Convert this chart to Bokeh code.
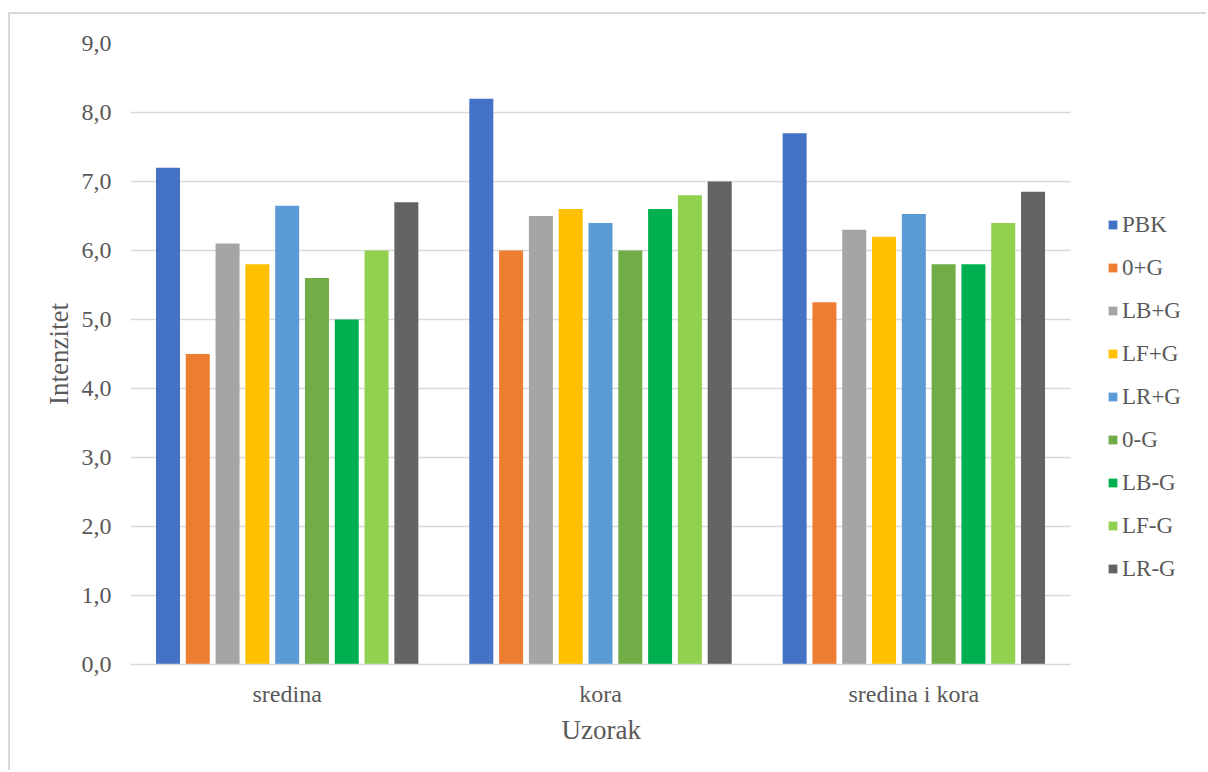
from bokeh.plotting import figure
from bokeh.models import Legend, LegendItem, ColumnDataSource, FixedTicker, CustomJSTickFormatter, Range1d, Title
from bokeh.transform import dodge
from bokeh.embed import file_html
from bokeh.resources import INLINE

categories = ["sredina", "kora", "sredina i kora"]
series_names = ["PBK", "0+G", "LB+G", "LF+G", "LR+G", "0-G", "LB-G", "LF-G", "LR-G"]
PBK = [7.2, 8.2, 7.7]
O_plus_G = [4.5, 6.0, 5.25]
LB_plus_G = [6.1, 6.5, 6.3]
LF_plus_G = [5.8, 6.6, 6.2]
LR_plus_G = [6.65, 6.4, 6.53]
O_minus_G = [5.6, 6.0, 5.8]
LB_minus_G = [5.0, 6.6, 5.8]
LF_minus_G = [6.0, 6.8, 6.4]
LR_minus_G = [6.7, 7.0, 6.85]
series_values = [PBK, O_plus_G, LB_plus_G, LF_plus_G, LR_plus_G,
                 O_minus_G, LB_minus_G, LF_minus_G, LR_minus_G]
colors = ["#4472C4", "#ED7D31", "#A5A5A5", "#FFC000", "#5B9BD5",
          "#70AD47", "#00B050", "#92D050", "#636363"]
y_ticks = [0, 1, 2, 3, 4, 5, 6, 7, 8, 9]

FONT = "Liberation Serif"
TXT = "#595959"
GRID = "#d9d9d9"

n = len(categories)
centers = [i + 0.5 for i in range(n)]
data = {"x": centers, "cat": categories}
for i, v in enumerate(series_values):
    data[f"s{i}"] = v
source = ColumnDataSource(data)

FRAME_W = 1078
UNIT = 940 / n
p = figure(
    x_range=Range1d(0, FRAME_W / UNIT),
    y_range=Range1d(0, 9),
    width=1198, height=758,
    min_border_left=120, min_border_top=29, min_border_right=0, min_border_bottom=108,
    output_backend="svg", toolbar_location=None,
)
p.styles = {"margin-left": "8px", "margin-top": "12px",
            "border-left": "2px solid #d9d9d9", "border-top": "2px solid #d9d9d9"}

step = 0.0951
bw = 0.0766
items = []
for i, name in enumerate(series_names):
    r = p.vbar(x=dodge("x", (i - 4) * step), top=f"s{i}", width=bw,
               source=source, fill_color=colors[i], line_color=None)
    items.append(LegendItem(label=name, renderers=[r]))

legend = Legend(items=items, location=(977, 82), orientation="vertical",
                border_line_color=None, background_fill_alpha=0,
                padding=0, margin=0, spacing=16, label_height=27,
                glyph_height=11, glyph_width=11, label_standoff=4,
                label_text_font=FONT, label_text_font_size="23px", label_text_color=TXT)
p.add_layout(legend, "center")

p.outline_line_color = None
p.xgrid.grid_line_color = None
p.ygrid.grid_line_color = GRID
p.ygrid.grid_line_width = 1.5
p.ygrid.cross_bounds = (0, n)

p.yaxis.ticker = FixedTicker(ticks=y_ticks)
p.yaxis.formatter = CustomJSTickFormatter(code="return tick.toFixed(1).replace('.', ',');")
p.yaxis.axis_line_color = None
p.yaxis.major_tick_line_color = None
p.yaxis.minor_tick_line_color = None
p.yaxis.major_label_standoff = 13
p.yaxis.major_label_text_font = FONT
p.yaxis.major_label_text_font_size = "24px"
p.yaxis.major_label_text_color = TXT
p.yaxis.axis_label = "Intenzitet"
p.yaxis.axis_label_text_font = FONT
p.yaxis.axis_label_text_font_size = "27px"
p.yaxis.axis_label_text_font_style = "normal"
p.yaxis.axis_label_text_color = TXT
p.yaxis.axis_label_standoff = 5

p.xaxis.ticker = FixedTicker(ticks=centers)
p.xaxis.formatter = CustomJSTickFormatter(
    args={"cats": categories},
    code="return cats[Math.round(tick - 0.5)];")
p.xaxis.bounds = (0, n)
p.xaxis.axis_line_color = GRID
p.xaxis.axis_line_width = 1.5
p.xaxis.major_tick_line_color = None
p.xaxis.minor_tick_line_color = None
p.xaxis.major_label_standoff = 10
p.xaxis.major_label_text_font = FONT
p.xaxis.major_label_text_font_size = "24px"
p.xaxis.major_label_text_color = TXT

# x-axis title, left-aligned with an offset so it sits centred under the categories
p.add_layout(Title(text="Uzorak", align="left", offset=431,
                   text_font=FONT, text_font_size="27px", text_font_style="normal",
                   text_color=TXT, standoff=6), "below")

open("out.html", "w").write(file_html(p, INLINE))
